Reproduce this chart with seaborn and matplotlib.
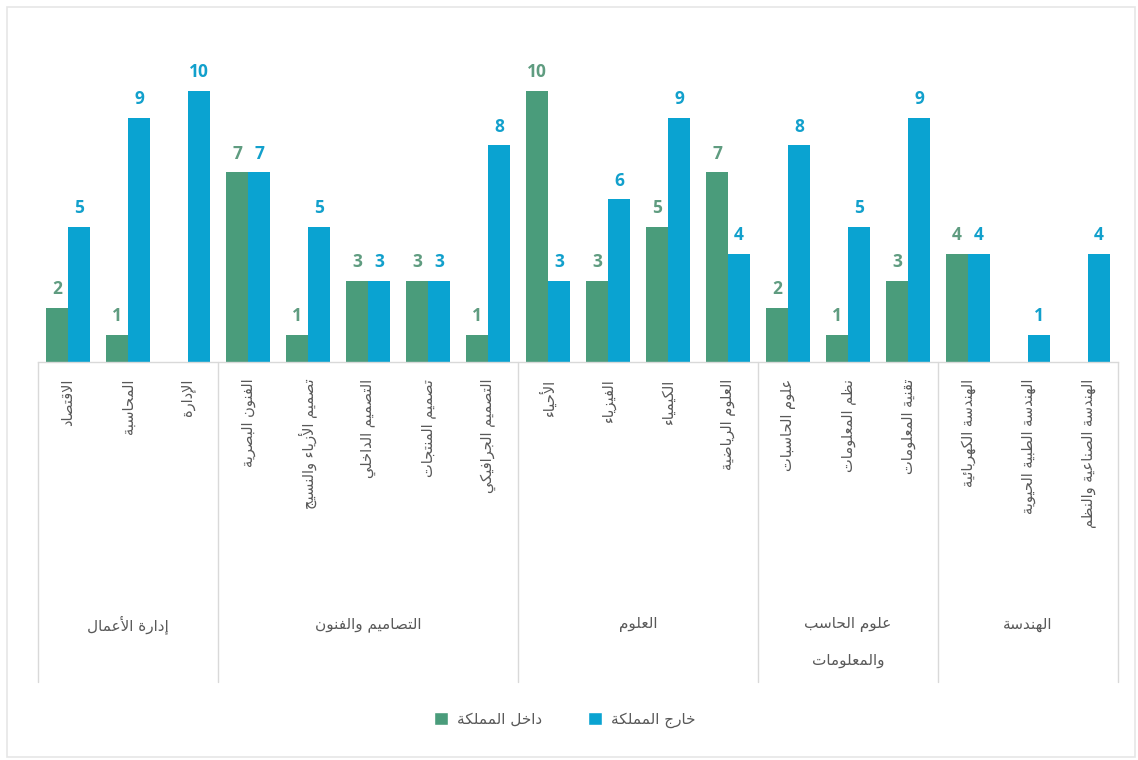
import pandas as pd
import seaborn as sns
import matplotlib.pyplot as plt
import matplotlib.transforms as mtransforms
from matplotlib.patches import Rectangle, Patch
from matplotlib.lines import Line2D

# البيانات
groups = ["إدارة الأعمال", "التصاميم والفنون", "العلوم", "علوم الحاسب\nوالمعلومات", "الهندسة"]
group_sizes = [3, 5, 4, 3, 3]
categories = [
    "الاقتصاد", "المحاسبة", "الإدارة",
    "الفنون البصرية", "تصميم الأزياء والنسيج", "التصميم الداخلي", "تصميم المنتجات", "التصميم الجرافيكي",
    "الأحياء", "الفيزياء", "الكيمياء", "العلوم الرياضية",
    "علوم الحاسبات", "نظم المعلومات", "تقنية المعلومات",
    "الهندسة الكهربائية", "الهندسة الطبية الحيوية", "الهندسة الصناعية والنظم",
]
inside = [2, 1, 0, 7, 1, 3, 3, 1, 10, 3, 5, 7, 2, 1, 3, 4, 0, 0]
outside = [5, 9, 10, 7, 5, 3, 3, 8, 3, 6, 9, 4, 8, 5, 9, 4, 1, 4]
series = ["داخل المملكة", "خارج المملكة"]

GREEN = "#4a9c7b"
BLUE = "#0aa3d1"
GRAY = "#595959"
LINE = "#d9d9d9"

# تشكيل الحروف العربية يدوياً (matplotlib لا يدعم التشكيل ولا الاتجاه)
FORMS = {
    "ء": (0xFE80,), "آ": (0xFE81, 0xFE82), "أ": (0xFE83, 0xFE84), "ؤ": (0xFE85, 0xFE86),
    "إ": (0xFE87, 0xFE88), "ئ": (0xFE89, 0xFE8A, 0xFE8B, 0xFE8C), "ا": (0xFE8D, 0xFE8E),
    "ب": (0xFE8F, 0xFE90, 0xFE91, 0xFE92), "ة": (0xFE93, 0xFE94),
    "ت": (0xFE95, 0xFE96, 0xFE97, 0xFE98), "ث": (0xFE99, 0xFE9A, 0xFE9B, 0xFE9C),
    "ج": (0xFE9D, 0xFE9E, 0xFE9F, 0xFEA0), "ح": (0xFEA1, 0xFEA2, 0xFEA3, 0xFEA4),
    "خ": (0xFEA5, 0xFEA6, 0xFEA7, 0xFEA8), "د": (0xFEA9, 0xFEAA), "ذ": (0xFEAB, 0xFEAC),
    "ر": (0xFEAD, 0xFEAE), "ز": (0xFEAF, 0xFEB0), "س": (0xFEB1, 0xFEB2, 0xFEB3, 0xFEB4),
    "ش": (0xFEB5, 0xFEB6, 0xFEB7, 0xFEB8), "ص": (0xFEB9, 0xFEBA, 0xFEBB, 0xFEBC),
    "ض": (0xFEBD, 0xFEBE, 0xFEBF, 0xFEC0), "ط": (0xFEC1, 0xFEC2, 0xFEC3, 0xFEC4),
    "ظ": (0xFEC5, 0xFEC6, 0xFEC7, 0xFEC8), "ع": (0xFEC9, 0xFECA, 0xFECB, 0xFECC),
    "غ": (0xFECD, 0xFECE, 0xFECF, 0xFED0), "ف": (0xFED1, 0xFED2, 0xFED3, 0xFED4),
    "ق": (0xFED5, 0xFED6, 0xFED7, 0xFED8), "ك": (0xFED9, 0xFEDA, 0xFEDB, 0xFEDC),
    "ل": (0xFEDD, 0xFEDE, 0xFEDF, 0xFEE0), "م": (0xFEE1, 0xFEE2, 0xFEE3, 0xFEE4),
    "ن": (0xFEE5, 0xFEE6, 0xFEE7, 0xFEE8), "ه": (0xFEE9, 0xFEEA, 0xFEEB, 0xFEEC),
    "و": (0xFEED, 0xFEEE), "ى": (0xFEEF, 0xFEF0), "ي": (0xFEF1, 0xFEF2, 0xFEF3, 0xFEF4),
}
LAM_ALEF = {"ا": (0xFEFB, 0xFEFC), "أ": (0xFEF7, 0xFEF8), "إ": (0xFEF9, 0xFEFA), "آ": (0xFEF5, 0xFEF6)}


def shape_line(text):
    # دمج لام ألف أولاً
    units = []
    i = 0
    while i < len(text):
        c = text[i]
        if c == "ل" and i + 1 < len(text) and text[i + 1] in LAM_ALEF:
            units.append(("LA", LAM_ALEF[text[i + 1]]))
            i += 2
        else:
            units.append((c, FORMS.get(c)))
            i += 1

    def joins_next(u):
        return u[1] is not None and len(u[1]) == 4

    def joinable(u):
        return u[1] is not None and len(u[1]) > 1

    out = []
    for k, u in enumerate(units):
        if u[1] is None:
            out.append(u[0])
            continue
        forms = u[1]
        prev = k > 0 and joins_next(units[k - 1]) and joinable(u)
        nxt = k + 1 < len(units) and joins_next(u) and joinable(units[k + 1])
        if len(forms) == 1:
            out.append(chr(forms[0]))
        elif len(forms) == 2:
            out.append(chr(forms[1] if prev else forms[0]))
        else:
            if prev and nxt:
                out.append(chr(forms[3]))
            elif prev:
                out.append(chr(forms[1]))
            elif nxt:
                out.append(chr(forms[2]))
            else:
                out.append(chr(forms[0]))
    return "".join(out)[::-1]


def ar(text):
    return "\n".join(shape_line(line) for line in text.split("\n"))


sns.set_theme(style="white")
plt.rcParams["font.family"] = ["DejaVu Sans"]

df = pd.DataFrame({
    "category": [ar(c) for c in categories] * 2,
    "series": [ar(series[0])] * len(categories) + [ar(series[1])] * len(categories),
    "value": inside + outside,
})

fig = plt.figure(figsize=(11.38, 7.6), dpi=100)
ax = fig.add_axes([38 / 1138, 1 - 362 / 760, 1080 / 1138, 298 / 760])

sns.barplot(data=df, x="category", y="value", hue="series",
            order=[ar(c) for c in categories], hue_order=[ar(s) for s in series],
            palette=[GREEN, BLUE], width=0.73, saturation=1, linewidth=0,
            ax=ax, legend=False)

ax.set_ylim(0, 11)
ax.set_xlim(-0.5, len(categories) - 0.5)
ax.set_yticks([])
ax.set_xlabel("")
ax.set_ylabel("")
for side in ["top", "right", "left"]:
    ax.spines[side].set_visible(False)
ax.spines["bottom"].set_color(LINE)
ax.spines["bottom"].set_linewidth(1)

# قيم الأعمدة
label_colors = ["#5f9c80", "#12a0cc"]
for cont, col in zip(ax.containers, label_colors):
    labels = [f"{int(b.get_height())}" if b.get_height() > 0 else "" for b in cont]
    ax.bar_label(cont, labels=labels, padding=7, color=col, fontsize=12.5,
                 fontweight="bold", family=["Open Sans", "DejaVu Sans"])

# تسميات الفئات
ax.set_xticks(range(len(categories)))
ax.set_xticklabels([ar(c) for c in categories], rotation=90, va="top", ha="center",
                   fontsize=10.5, color=GRAY)
ax.tick_params(axis="x", length=0, pad=12)

# فواصل المجموعات وأسماؤها
trans = mtransforms.blended_transform_factory(ax.transData, fig.transFigure)
y_top = 1 - 362 / 760
y_bot = 1 - 682 / 760
bounds = [-0.5]
for n in group_sizes:
    bounds.append(bounds[-1] + n)
for b in bounds:
    ax.add_line(Line2D([b, b], [y_bot, y_top], transform=trans, color=LINE, lw=1, clip_on=False))
for g, a, b in zip(groups, bounds[:-1], bounds[1:]):
    for j, line in enumerate(g.split("\n")):
        ax.text((a + b) / 2, 1 - (625 + 35 * j) / 760, ar(line), transform=trans,
                ha="center", va="center", fontsize=11, color=GRAY)

# وسيلة الإيضاح
handles = [Patch(facecolor=GREEN), Patch(facecolor=BLUE)]
fig.legend(handles, [ar(s) for s in series], loc="center", bbox_to_anchor=(565 / 1138, 1 - 720 / 760),
           ncol=2, frameon=False, fontsize=11, labelcolor=GRAY, handlelength=0.9, handleheight=0.9,
           handletextpad=0.6, columnspacing=3)

fig.add_artist(Rectangle((7 / 1138, 3 / 760), 1128 / 1138, 750 / 760, transform=fig.transFigure,
                         fill=False, edgecolor="#e6e6e6", lw=1.2))

fig.savefig("out.png", dpi=100, facecolor="white")
